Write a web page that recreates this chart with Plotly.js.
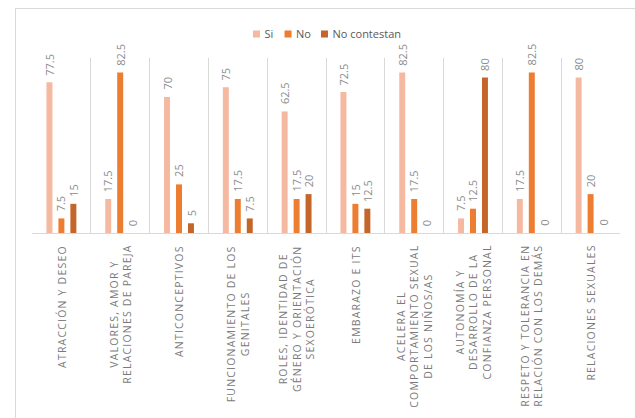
<!DOCTYPE html>
<html>
<head>
<meta charset="utf-8">
<script src="https://cdn.plot.ly/plotly-3.0.1.min.js"></script>
<style>
  html, body { margin: 0; padding: 0; background: #ffffff; }
  #wrap { position: relative; width: 635px; height: 418px; overflow: hidden; }
  #frame { position: absolute; left: 15px; top: 8px; width: 700px; height: 500px;
           border-left: 1px solid #d9d9d9; border-top: 1px solid #d9d9d9; }
  #chart { position: absolute; left: 0; top: 0; width: 635px; height: 418px; }
  /* small square legend keys placed just before the legend text */
  .legendpoints path { d: path("M15.5,3.5H8.5V-3.5H15.5Z"); }
  /* spaced capitals for the category labels (they all contain an "E") */
  .annotation-text[data-unformatted*="E"] { letter-spacing: 1.2px; }
</style>
</head>
<body>
<div id="wrap">
  <div id="frame"></div>
  <div id="chart"></div>
</div>
<script>
const categories = [
  "ATRACCIÓN Y DESEO",
  "VALORES, AMOR Y<br>RELACIONES DE PAREJA",
  "ANTICONCEPTIVOS",
  "FUNCIONAMIENTO DE LOS<br>GENITALES",
  "ROLES, IDENTIDAD DE<br>GÉNERO Y ORIENTACIÓN<br>SEXOERÓTICA",
  "EMBARAZO E ITS",
  "ACELERA EL<br>COMPORTAMIENTO SEXUAL<br>DE LOS NIÑOS/AS",
  "AUTONOMÍA Y<br>DESARROLLO DE LA<br>CONFIANZA PERSONAL",
  "RESPETO Y TOLERANCIA EN<br>RELACIÓN CON LOS DEMÁS",
  "RELACIONES SEXUALES"
];
const seriesNames = ["Si", "No", "No contestan"];
const si = [77.5, 17.5, 70, 75, 62.5, 72.5, 82.5, 7.5, 17.5, 80];
const no = [7.5, 82.5, 25, 17.5, 17.5, 15, 17.5, 12.5, 82.5, 20];
const noContestan = [15, 0, 5, 7.5, 20, 12.5, 0, 80, 0, 0];
const colors = ["#f5b8a0", "#ed7d31", "#c4652a"];
const legendIds = ["legend", "legend2", "legend3"];
const legendX = [0.3274, 0.381, 0.443];

const BARGAP = 0.39;
const seriesValues = [si, no, noContestan];

const traces = seriesValues.map((vals, k) => ({
  type: "bar",
  name: seriesNames[k],
  legend: legendIds[k],
  x: categories.map((c, i) => i),
  y: vals,
  marker: { color: colors[k] },
  hoverinfo: "skip"
}));

const catAnnotations = categories.map((c, i) => ({
  text: c,
  x: i,
  xref: "x",
  y: 0,
  yref: "paper",
  xanchor: "center",
  yanchor: "top",
  yshift: -10,
  textangle: -90,
  align: "center",
  showarrow: false,
  font: { family: "Open Sans, sans-serif", size: 10.5, color: "#7a7a7a" }
}));

const slot = (1 - BARGAP) / seriesValues.length;
const valueAnnotations = [];
seriesValues.forEach((vals, k) => {
  vals.forEach((v, i) => {
    valueAnnotations.push({
      text: String(v),
      x: i + (k - (seriesValues.length - 1) / 2) * slot,
      xref: "x",
      y: v,
      yref: "y",
      xanchor: "center",
      yanchor: "bottom",
      yshift: 5,
      textangle: -90,
      showarrow: false,
      font: { family: "Open Sans, sans-serif", size: 11, color: "#8c8c8c" }
    });
  });
});

const legendBase = {
  orientation: "h",
  xanchor: "left",
  y: 1.137, yanchor: "middle",
  font: { family: "Open Sans, sans-serif", size: 11, color: "#595959" },
  itemwidth: 30,
  bgcolor: "rgba(0,0,0,0)"
};

const layout = {
  width: 635,
  height: 418,
  margin: { l: 32, r: 15, t: 58, b: 185 },
  paper_bgcolor: "rgba(0,0,0,0)",
  plot_bgcolor: "rgba(0,0,0,0)",
  barmode: "group",
  bargap: BARGAP,
  bargroupgap: 0.5,
  showlegend: true,
  legend: Object.assign({}, legendBase, { x: legendX[0] }),
  legend2: Object.assign({}, legendBase, { x: legendX[1] }),
  legend3: Object.assign({}, legendBase, { x: legendX[2] }),
  xaxis: {
    type: "category",
    range: [-0.5, categories.length - 0.5],
    showticklabels: false,
    tickson: "boundaries",
    showgrid: true,
    gridcolor: "#d9d9d9",
    gridwidth: 1,
    ticks: "",
    showline: true,
    linecolor: "#d9d9d9",
    linewidth: 1,
    zeroline: false
  },
  yaxis: {
    range: [0, 90],
    visible: false,
    showgrid: false,
    zeroline: false
  },
  annotations: catAnnotations.concat(valueAnnotations)
};

Plotly.newPlot("chart", traces, layout, { displayModeBar: false, staticPlot: true });
</script>
</body>
</html>
